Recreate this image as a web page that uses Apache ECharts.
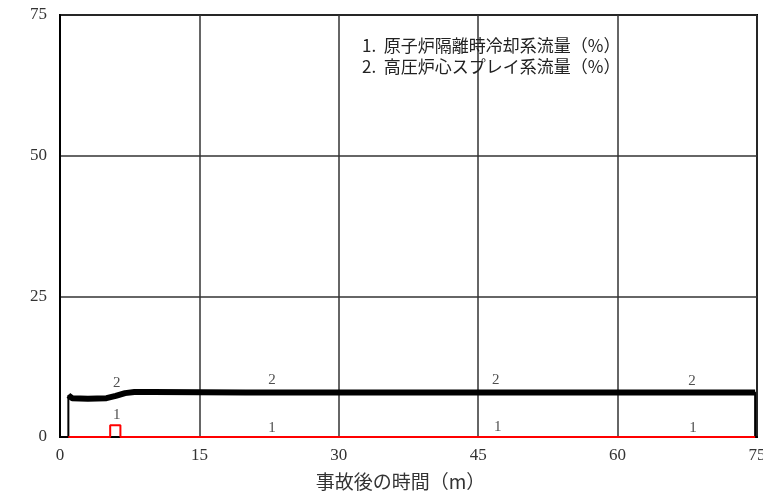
<!DOCTYPE html>
<html>
<head>
<meta charset="utf-8">
<script src="https://cdn.jsdelivr.net/npm/echarts@6/dist/echarts.min.js"></script>
<style>html,body{margin:0;padding:0;background:#fff}#c{width:763px;height:497px}</style>
</head>
<body>
<div id="c"></div>
<script>
// Data
const xTicks = [0, 15, 30, 45, 60, 75];
const yTicks = [0, 25, 50, 75];
const legendLines = ['1.  原子炉隔離時冷却系流量（%）', '2.  高圧炉心スプレイ系流量（%）'];
const xAxisTitle = '事故後の時間（m）';

// Series 1: 原子炉隔離時冷却系流量 (%)
const s1Time  = [0.9, 5.4, 5.4, 6.5, 6.5, 74.8];
const s1Value = [0,   0,   2.1, 2.1, 0,   0];

// Series 2: 高圧炉心スプレイ系流量 (%)
const s2Time  = [0, 0.9, 0.9, 1.3, 3.0, 5.0, 6.0, 7.0, 8.0, 10.0, 20.0, 40.0, 60.0, 74.8, 74.8];
const s2Value = [0, 0,   7.4, 6.9, 6.8, 6.9, 7.3, 7.8, 8.0, 8.0,  7.9,  7.9,  7.9,  7.9,  0];

// Curve number labels
const lab1Time  = [6.1, 22.8, 47.1, 68.1];
const lab1Value = [3.9, 1.6, 1.8, 1.6];
const lab2Time  = [6.1, 22.8, 46.9, 68.0];
const lab2Value = [9.6, 10.1, 10.1, 10.0];

const zip = (a, b) => a.map((v, i) => [v, b[i]]);
const s2All = zip(s2Time, s2Value);
const s2Plateau = s2All.slice(2, s2All.length - 1);

const serif = 'Liberation Serif';
const cjk = '"Noto Sans CJK JP", "Liberation Serif"';

const chart = echarts.init(document.getElementById('c'), null, {renderer: 'canvas'});
chart.setOption({
  animation: false,
  backgroundColor: '#fff',
  grid: {left: 60, right: 6, top: 15, bottom: 60, show: true, borderColor: '#000', borderWidth: 2,
    containLabel: false, outerBoundsMode: 'none'},
  xAxis: {
    type: 'value', min: 0, max: 75, interval: 15,
    axisLine: {show: true, lineStyle: {color: '#000', width: 2}},
    axisTick: {show: false},
    splitLine: {show: true, lineStyle: {color: '#333', width: 1.5}},
    axisLabel: {color: '#333', fontFamily: serif, fontSize: 17, margin: 10,
      formatter: v => xTicks.includes(v) ? String(v) : ''},
    name: xAxisTitle, nameLocation: 'middle', nameGap: 35,
    nameTextStyle: {color: '#333', fontFamily: cjk, fontSize: 19, padding: [0, 16, 0, 0]}
  },
  yAxis: {
    type: 'value', min: 0, max: 75, interval: 25,
    axisLine: {show: true, lineStyle: {color: '#000', width: 2}},
    axisTick: {show: false},
    splitLine: {show: true, lineStyle: {color: '#333', width: 1.5}},
    axisLabel: {color: '#333', fontFamily: serif, fontSize: 17, margin: 13,
      formatter: v => yTicks.includes(v) ? String(v) : ''}
  },
  graphic: legendLines.map((t, i) => ({
    type: 'text', left: 362, top: 37 + i * 21, z: 100,
    style: {text: t, fill: '#222', font: '17px "Noto Sans CJK JP"'}
  })),
  series: [
    {name: '2', type: 'line', data: s2All, showSymbol: false, z: 3,
      lineStyle: {color: '#000', width: 2}},
    {name: '2b', type: 'line', data: s2Plateau, showSymbol: false, z: 3,
      lineStyle: {color: '#000', width: 6}},
    {name: '1', type: 'line', data: zip(s1Time, s1Value), showSymbol: false, z: 4,
      lineStyle: {color: '#ff0000', width: 2}},
    {type: 'scatter', data: zip(lab1Time, lab1Value), symbolSize: 0, z: 5,
      label: {show: true, position: 'inside', formatter: '1', color: '#222', fontFamily: serif, fontSize: 15}},
    {type: 'scatter', data: zip(lab2Time, lab2Value), symbolSize: 0, z: 5,
      label: {show: true, position: 'inside', formatter: '2', color: '#222', fontFamily: serif, fontSize: 15}}
  ]
});
</script>
</body>
</html>
